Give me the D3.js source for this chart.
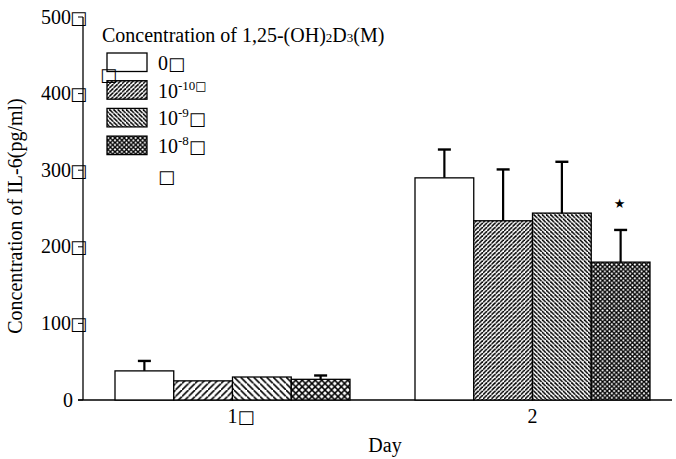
<!DOCTYPE html>
<html><head><meta charset="utf-8">
<script src="https://cdn.jsdelivr.net/npm/d3@7/dist/d3.min.js"></script>
<style>
body{margin:0;background:#fff;}
text{font-family:"Liberation Serif","Times New Roman",serif;fill:#000;}
.box{font-family:"DejaVu Sans",sans-serif;font-weight:bold;}
</style></head><body>
<svg id="c" width="676" height="459"></svg>
<script>
const days = ["1", "2"];
const dayLabels = ["1□", "2"];
const series = ["0", "1e-10", "1e-9", "1e-8"];
const seriesLabels = [["0", "", "□"], ["10", "-10", "□"], ["10", "-9", "□"], ["10", "-8", "□"]];
const means = [[38, 25, 30, 27], [290, 234, 244, 180]];
const errs  = [[13, 0, 0, 5], [37, 67, 67, 42]];
const yTicks = [0, 100, 200, 300, 400, 500];
const yTickLabels = ["0", "100□", "200□", "300□", "400□", "500□"];
const sigMarks = [[false, false, false, false], [false, false, false, true]];

const FS = 20;
const svg = d3.select("#c");
const defs = svg.append("defs");
function hatch(id, sp, kind, sw) {
  const p = defs.append("pattern").attr("id", id).attr("patternUnits", "userSpaceOnUse")
    .attr("width", sp).attr("height", sp);
  p.append("rect").attr("width", sp).attr("height", sp).attr("fill", "#fff");
  const line = (x1, y1, x2, y2) => p.append("line").attr("x1", x1).attr("y1", y1).attr("x2", x2).attr("y2", y2).attr("stroke", "#000").attr("stroke-width", sw);
  if (kind === "f" || kind === "x") { line(0, sp, sp, 0); line(-sp, sp, 0, 0); line(sp, 2*sp, 2*sp, sp); }
  if (kind === "b" || kind === "x") { line(0, 0, sp, sp); line(-sp, 0, 0, sp); line(sp, -sp, 2*sp, 0); }
}
hatch("f1", 6.5, "f", 1.6); hatch("b1", 6.5, "b", 1.6); hatch("x1", 6.5, "x", 1.5);
hatch("f2", 4.2, "f", 1.5); hatch("b2", 4.2, "b", 1.5); hatch("x2", 4.6, "x", 1.4);
function fillFor(si, gi) {
  if (si === 0) return "#fff";
  const k = ["", "f", "b", "x"][si];
  return "url(#" + k + (gi + 1) + ")";
}

const y = d3.scaleLinear().domain([0, 500]).range([400, 17]);
const xDay = d3.scalePoint().domain(days).range([232.5, 532.5]);
const xSer = d3.scaleBand().domain(series).range([-117.5, 117.5]).padding(0);

const axisX = 83;
svg.append("line").attr("x1", axisX).attr("x2", axisX).attr("y1", y(500)).attr("y2", y(0)).attr("stroke", "#000").attr("stroke-width", 1.3);
svg.append("line").attr("x1", 78).attr("x2", 672).attr("y1", y(0)).attr("y2", y(0)).attr("stroke", "#000").attr("stroke-width", 1.3);

const yg = svg.append("g");
yTicks.forEach((t, i) => {
  yg.append("line").attr("x1", axisX - 5).attr("x2", axisX).attr("y1", y(t)).attr("y2", y(t)).attr("stroke", "#000");
  const txt = yg.append("text").attr("x", i === 0 ? axisX - 10 : axisX + 4).attr("y", y(t) + 6.5)
    .attr("text-anchor", "end").attr("font-size", FS);
  const lab = yTickLabels[i];
  if (lab.endsWith("□")) {
    txt.append("tspan").text(lab.slice(0, -1));
    txt.append("tspan").attr("class", "box").attr("font-size", 18).attr("dx", -1).text("□");
  } else txt.text(lab);
});

days.forEach((d, gi) => {
  series.forEach((s, si) => {
    const x0 = xDay(d) + xSer(s), w = xSer.bandwidth();
    const v = means[gi][si], e = errs[gi][si];
    if (e > 0) {
      const cx = x0 + w / 2;
      svg.append("line").attr("x1", cx).attr("x2", cx).attr("y1", y(v)).attr("y2", y(v + e)).attr("stroke", "#000").attr("stroke-width", 2.2);
      svg.append("line").attr("x1", cx - 6.5).attr("x2", cx + 6.5).attr("y1", y(v + e)).attr("y2", y(v + e)).attr("stroke", "#000").attr("stroke-width", 2.4);
    }
    svg.append("rect").attr("x", x0).attr("y", y(v)).attr("width", w).attr("height", y(0) - y(v))
      .attr("fill", fillFor(si, gi)).attr("stroke", "#000").attr("stroke-width", 1.3);
    if (sigMarks[gi][si]) {
      svg.append("text").attr("x", x0 + w / 2 - 1).attr("y", y(v + e) - 22).attr("text-anchor", "middle")
        .attr("class", "box").attr("font-size", 13).text("★");
    }
  });
});

days.forEach((d, i) => {
  const t = svg.append("text").attr("x", xDay(d) + (i === 0 ? 8.5 : 0)).attr("y", 423).attr("text-anchor", "middle").attr("font-size", FS);
  const lab = dayLabels[i];
  if (lab.endsWith("□")) {
    t.append("tspan").text(lab.slice(0, -1));
    t.append("tspan").attr("class", "box").attr("font-size", 18).text("□");
  } else t.text(lab);
});
svg.append("text").attr("x", 385).attr("y", 452).attr("text-anchor", "middle").attr("font-size", FS).text("Day");
svg.append("text").attr("transform", "translate(22,216) rotate(-90)").attr("text-anchor", "middle").attr("font-size", FS)
  .text("Concentration of IL-6(pg/ml)");

const lt = svg.append("text").attr("x", 102).attr("y", 42).attr("font-size", FS);
lt.append("tspan").text("Concentration of 1,25-(OH)");
lt.append("tspan").attr("font-size", 13).text("2");
lt.append("tspan").text("D");
lt.append("tspan").attr("font-size", 13).text("3");
lt.append("tspan").text("(M)");
series.forEach((s, si) => {
  const yy = 53 + si * 27.7;
  svg.append("rect").attr("x", 107).attr("y", yy).attr("width", 40).attr("height", 18.5)
    .attr("fill", fillFor(si, 1)).attr("stroke", "#000").attr("stroke-width", 1.3);
  const [base, sup, bx] = seriesLabels[si];
  const t = svg.append("text").attr("x", 158).attr("y", yy + 17).attr("font-size", FS);
  t.append("tspan").text(base);
  if (sup) t.append("tspan").attr("font-size", 13).attr("dy", -8).text(sup);
  const b = t.append("tspan").attr("class", "box").attr("font-size", si === 1 ? 12 : 18).text(bx);
  if (sup) b.attr("dy", si === 1 ? 0 : 8);
});
svg.append("text").attr("x", 100).attr("y", 81).attr("class", "box").attr("font-size", 18).text("□");
svg.append("text").attr("x", 158).attr("y", 183).attr("class", "box").attr("font-size", 18).text("□");
</script></body></html>
